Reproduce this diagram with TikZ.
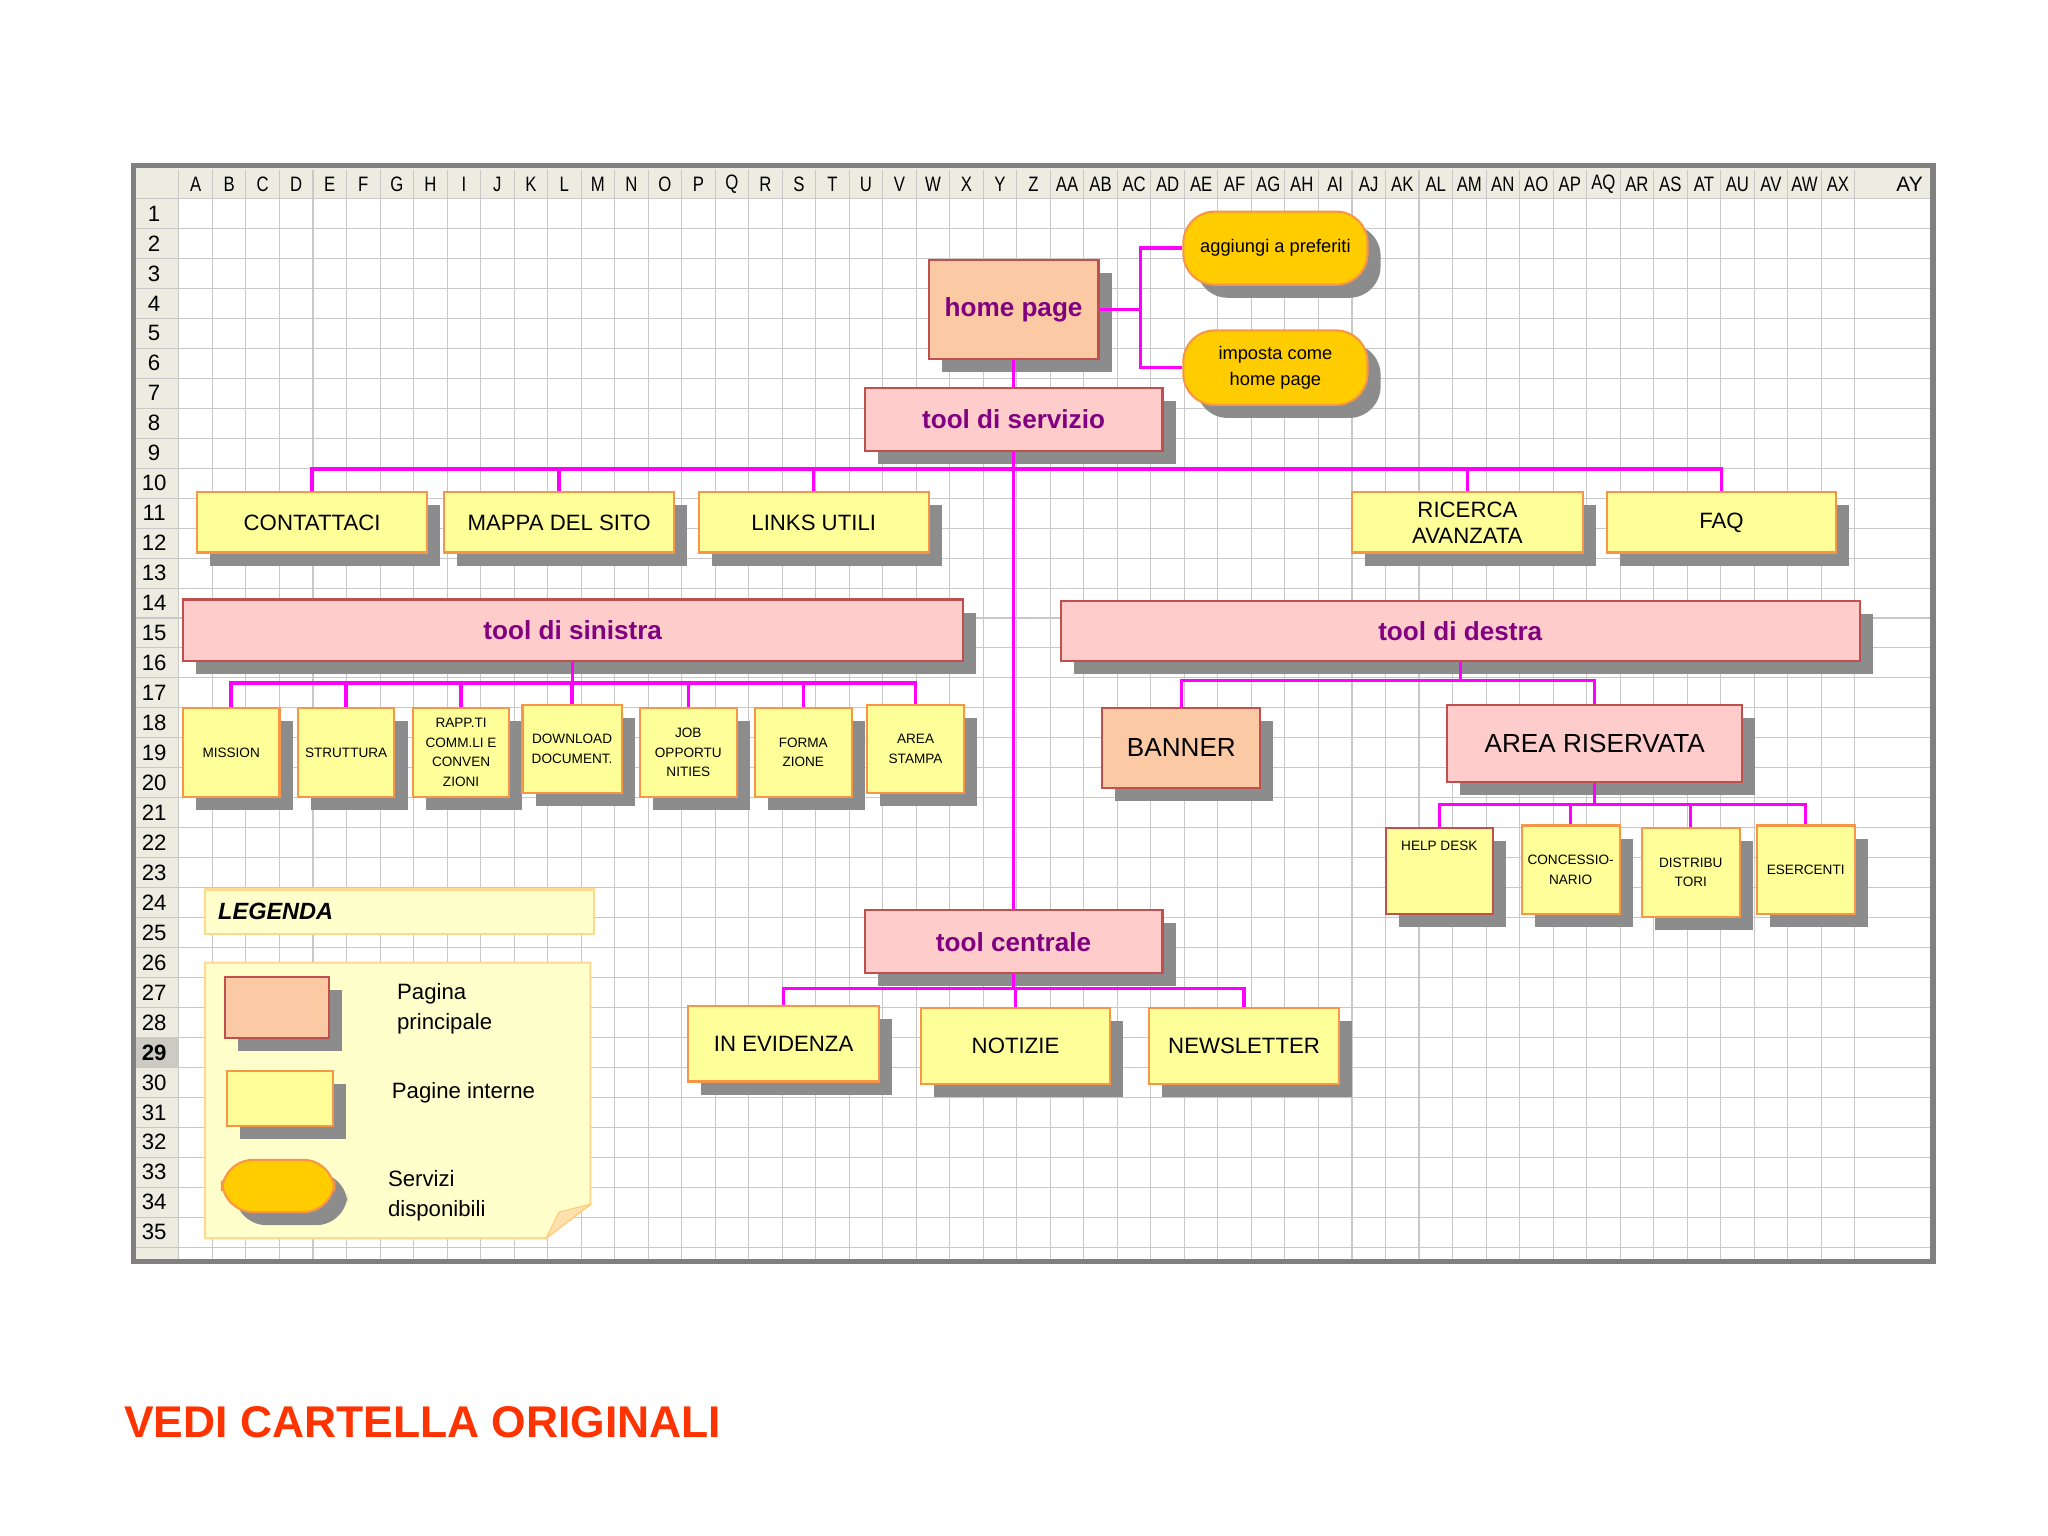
\documentclass[tikz,border=0pt]{standalone}
\usepackage{fontspec}
\setmainfont{Liberation Sans}
\usetikzlibrary{shadows}
\definecolor{peach}{HTML}{FBC9A3}
\definecolor{pinkb}{HTML}{FFCCCC}
\definecolor{yel}{HTML}{FFFF99}
\definecolor{gold}{HTML}{FFCC00}
\definecolor{brd}{HTML}{C0504D}
\definecolor{org}{HTML}{F79646}
\definecolor{mag}{HTML}{FF00FF}
\definecolor{purp}{HTML}{800080}
\definecolor{gridc}{HTML}{C8C8C8}
\definecolor{hdr}{HTML}{ECECE0}
\definecolor{leg}{HTML}{FFFFCC}
\tikzset{
 shd/.style={general shadow={fill=black!45, shadow xshift=5pt, shadow yshift=-5pt}},
 pagebox/.style={shd, draw=brd, line width=0.8pt, fill=peach, font=\bfseries\fontsize{10}{12}\selectfont, text=purp},
 toolbox/.style={shd, draw=brd, line width=0.8pt, fill=pinkb, font=\bfseries\fontsize{10}{12}\selectfont, text=purp},
 inbox/.style={shd, draw=org, line width=0.8pt, fill=yel, font=\fontsize{8.5}{10}\selectfont, align=center},
 smbox/.style={shd, draw=org, line width=0.8pt, fill=yel, font=\fontsize{5.2}{7.5}\selectfont, align=center},
 servbox/.style={shd, draw=org, line width=0.8pt, fill=gold, rounded corners=12pt, font=\fontsize{7}{10}\selectfont, align=center},
 link/.style={draw=mag, line width=1.3pt},
}
\newcommand\bx[7]{\node[#2, inner sep=0pt, minimum width={(#5-#3)*0.5pt}, minimum height={(#6-#4)*0.5pt}] (#1) at ({(#3+#5)/2},{(#4+#6)/2}) {#7};}
\begin{document}
\begin{tikzpicture}[x=0.5pt,y=-0.5pt]
\useasboundingbox (0,0) rectangle (1568,1176);
\fill[white] (0,0) rectangle (1568,1176);
% sheet
\fill[hdr] (102,127) rectangle (1480,152);
\fill[hdr] (102,127) rectangle (137,966);
\foreach \i in {0,...,50} \draw[gridc] ({137+\i*25.66},130) -- ({137+\i*25.66},964);
\draw[gridc] (1478,130) -- (1478,964);
\foreach \i in {0,...,35} \draw[gridc] (104,{152+\i*22.94}) -- (1478,{152+\i*22.94});
\fill[hdr!70!gray] (104,{152+28*22.94}) rectangle (137,{152+29*22.94});
\foreach \l [count=\i from 0] in {A,B,C,D,E,F,G,H,I,J,K,L,M,N,O,P,Q,R,S,T,U,V,W,X,Y,Z,AA,AB,AC,AD,AE,AF,AG,AH,AI,AJ,AK,AL,AM,AN,AO,AP,AQ,AR,AS,AT,AU,AV,AW,AX}
  \node[font=\fontsize{8}{9}\selectfont, inner sep=0pt, xscale=0.8] at ({137+(\i+0.5)*25.66},141) {\l};
\node[font=\fontsize{8}{9}\selectfont, inner sep=0pt] at (1462,141) {AY};
\foreach \r in {1,...,35} \node[font=\fontsize{8.5}{9}\selectfont, inner sep=0pt] at (118,{152+(\r-0.5)*22.94}) {\ifnum\r=29 \bfseries\fi\r};
\draw[gray, line width=2pt] (102,127) rectangle (1480,966);
% nodes
\bx{hp}{pagebox}{711}{199}{841}{275}{home page}
\bx{ap}{servbox}{906}{162}{1047}{218}{aggiungi a preferiti}
\bx{ic}{servbox}{906}{253}{1047}{310}{imposta come\\home page}
\bx{ts}{toolbox}{662}{297}{890}{345}{tool di servizio}
\bx{c1}{inbox}{151}{377}{327}{423}{CONTATTACI}
\bx{c2}{inbox}{340}{377}{516}{423}{MAPPA DEL SITO}
\bx{c3}{inbox}{535}{377}{711}{423}{LINKS UTILI}
\bx{c4}{inbox}{1035}{377}{1212}{423}{RICERCA\\AVANZATA}
\bx{c5}{inbox}{1230}{377}{1406}{423}{FAQ}
\bx{tsx}{toolbox}{140}{459}{737}{506}{tool di sinistra}
\bx{tdx}{toolbox}{812}{460}{1424}{506}{tool di destra}
\bx{s1}{smbox}{140}{542}{214}{610}{MISSION}
\bx{s2}{smbox}{228}{542}{302}{610}{STRUTTURA}
\bx{s3}{smbox}{316}{542}{390}{610}{RAPP.TI\\COMM.LI E\\CONVEN\\ZIONI}
\bx{s4}{smbox}{400}{540}{476}{607}{DOWNLOAD\\DOCUMENT.}
\bx{s5}{smbox}{490}{542}{564}{610}{JOB\\OPPORTU\\NITIES}
\bx{s6}{smbox}{578}{542}{652}{610}{FORMA\\ZIONE}
\bx{s7}{smbox}{664}{540}{738}{607}{AREA\\STAMPA}
\bx{bn}{pagebox}{844}{542}{965}{603}{\mdseries\color{black}BANNER}
\bx{ar}{toolbox}{1108}{540}{1334}{599}{\mdseries\color{black}AREA RISERVATA}
\bx{r1}{smbox,draw=brd}{1061}{634}{1143}{700}{HELP DESK\\[12pt]}
\bx{r2}{smbox}{1165}{632}{1240}{700}{CONCESSIO-\\NARIO}
\bx{r3}{smbox}{1257}{634}{1332}{702}{DISTRIBU\\TORI}
\bx{r4}{smbox}{1345}{632}{1420}{700}{ESERCENTI}
\bx{tc}{toolbox}{662}{697}{890}{745}{tool centrale}
\bx{n1}{inbox}{527}{770}{673}{828}{IN EVIDENZA}
\bx{n2}{inbox}{705}{772}{850}{830}{NOTIZIE}
\bx{n3}{inbox}{880}{772}{1025}{830}{NEWSLETTER}
% connectors
\coordinate (bh) at (873,0);
\draw[link] (hp.east) -- (hp.east -| bh) |- (ap.west);
\draw[link] (hp.east -| bh) |- (ic.west);
\draw[link] (hp.south) -- (ts.north);
\draw[link] (ts.south) -- (tc.north);
\coordinate (b1) at (0,359);
\foreach \c in {c1,c2,c3,c4,c5} \draw[link] (ts.south |- b1) -| (\c.north);
\coordinate (b2) at (0,523);
\draw[link] (tsx.south) -- (tsx.south |- b2);
\foreach \c in {s1,s2,s3,s4,s5,s6,s7} \draw[link] (tsx.south |- b2) -| (\c.north);
\coordinate (b3) at (0,521);
\draw[link] (tdx.south) -- (tdx.south |- b3);
\foreach \c in {bn,ar} \draw[link] (tdx.south |- b3) -| (\c.north);
\coordinate (b4) at (0,616);
\draw[link] (ar.south) -- (ar.south |- b4);
\foreach \c in {r1,r2,r3,r4} \draw[link] (ar.south |- b4) -| (\c.north);
\coordinate (b5) at (0,757);
\draw[link] (tc.south) -- (tc.south |- b5);
\foreach \c in {n1,n2,n3} \draw[link] (tc.south |- b5) -| (\c.north);
% legend
\node[draw=leg!70!orange, line width=0.8pt, fill=leg, minimum width=149pt, minimum height=17pt, inner sep=0pt] (lg) at (306,698) {};
\node[anchor=west, font=\bfseries\itshape\fontsize{9}{10}\selectfont] (lgt) at (160,698) {LEGENDA};
\path[draw=leg!70!orange, line width=0.8pt, fill=leg] (157,737) -- (452,737) -- (452,922) -- (418,948) -- (157,948) -- cycle;
\path[draw=leg!60!orange, fill=leg!60!orange!60] (452,922) -- (418,948) -- (428,928) -- cycle;
\bx{l1}{pagebox}{172}{748}{252}{795}{}
\bx{l2}{inbox}{174}{820}{255}{862}{}
\bx{l3}{servbox}{170}{888}{256}{928}{}
\node[anchor=north west, align=left, font=\fontsize{8.5}{11.5}\selectfont] (t1) at (297,746) {Pagina\\principale};
\node[anchor=west, font=\fontsize{8.5}{11.5}\selectfont] (t2) at (293,837) {Pagine interne};
\node[anchor=north west, align=left, font=\fontsize{8.5}{11.5}\selectfont] (t3) at (290,889) {Servizi\\disponibili};
\node[anchor=west, font=\bfseries\fontsize{17}{20}\selectfont, text={rgb,255:red,255;green,51;blue,0}] (vc) at (88,1089) {VEDI CARTELLA ORIGINALI};
\end{tikzpicture}
\end{document}
